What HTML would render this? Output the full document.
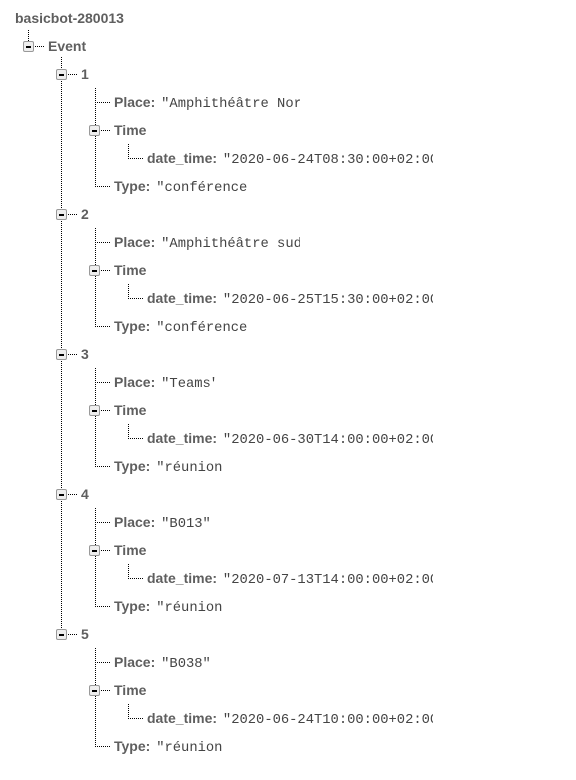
<!DOCTYPE html>
<html><head><meta charset="utf-8"><style>
body{margin:0;width:576px;height:780px;background:#fff;position:relative;overflow:hidden}
.t{position:absolute;height:18px;line-height:18px;white-space:nowrap;overflow:hidden;font-family:"Liberation Sans",sans-serif;font-size:14px;font-weight:bold;color:#5f5f5f}
.t span{font-family:"Liberation Mono",monospace;font-weight:normal;font-size:13.8px;color:#444;margin-left:2px}
.b{position:absolute;width:9px;height:9px;border:1px solid #999;border-radius:2px;background:#eee}
.b:after{content:"";position:absolute;left:2px;top:4px;width:5px;height:2px;background:#000}
svg{position:absolute;left:0;top:0}
</style></head><body>
<svg width="576" height="780"><g stroke="#000" stroke-width="1" stroke-dasharray="1,1" fill="none" shape-rendering="crispEdges">
<path d="M28.5 30V41M33 46.5H45M61.5 57V634"/>
<path d="M66 74.5H78M95.5 88V186.5M95 102.5H111M95 186.5H111M99 130.5H111M128.5 144V158.5M128 158.5H144"/>
<path transform="translate(0,140)" d="M66 74.5H78M95.5 88V186.5M95 102.5H111M95 186.5H111M99 130.5H111M128.5 144V158.5M128 158.5H144"/>
<path transform="translate(0,280)" d="M66 74.5H78M95.5 88V186.5M95 102.5H111M95 186.5H111M99 130.5H111M128.5 144V158.5M128 158.5H144"/>
<path transform="translate(0,420)" d="M66 74.5H78M95.5 88V186.5M95 102.5H111M95 186.5H111M99 130.5H111M128.5 144V158.5M128 158.5H144"/>
<path transform="translate(0,560)" d="M66 74.5H78M95.5 88V186.5M95 102.5H111M95 186.5H111M99 130.5H111M128.5 144V158.5M128 158.5H144"/>
</g></svg>
<div class="t" style="left:15px;top:9px">basicbot-280013</div>
<div class="b" style="left:23px;top:41px"></div><div class="t" style="left:48px;top:37px">Event</div>

<div class="b" style="left:56px;top:69px"></div><div class="t" style="left:81px;top:65px">1</div>
<div class="t" style="left:114px;top:93px;width:186px">Place: <span>"Amphithéâtre Nord"</span></div>
<div class="b" style="left:89px;top:125px"></div><div class="t" style="left:114px;top:121px">Time</div>
<div class="t" style="left:147px;top:149px;width:286px">date_time: <span>"2020-06-24T08:30:00+02:00"</span></div>
<div class="t" style="left:114px;top:177px">Type: <span>"conférence</span></div>

<div class="b" style="left:56px;top:209px"></div><div class="t" style="left:81px;top:205px">2</div>
<div class="t" style="left:114px;top:233px;width:186px">Place: <span>"Amphithéâtre sud"</span></div>
<div class="b" style="left:89px;top:265px"></div><div class="t" style="left:114px;top:261px">Time</div>
<div class="t" style="left:147px;top:289px;width:286px">date_time: <span>"2020-06-25T15:30:00+02:00"</span></div>
<div class="t" style="left:114px;top:317px">Type: <span>"conférence</span></div>

<div class="b" style="left:56px;top:349px"></div><div class="t" style="left:81px;top:345px">3</div>
<div class="t" style="left:114px;top:373px;width:101px">Place: <span>"Teams"</span></div>
<div class="b" style="left:89px;top:405px"></div><div class="t" style="left:114px;top:401px">Time</div>
<div class="t" style="left:147px;top:429px;width:286px">date_time: <span>"2020-06-30T14:00:00+02:00"</span></div>
<div class="t" style="left:114px;top:457px">Type: <span>"réunion</span></div>

<div class="b" style="left:56px;top:489px"></div><div class="t" style="left:81px;top:485px">4</div>
<div class="t" style="left:114px;top:513px;width:96px">Place: <span>"B013"</span></div>
<div class="b" style="left:89px;top:545px"></div><div class="t" style="left:114px;top:541px">Time</div>
<div class="t" style="left:147px;top:569px;width:286px">date_time: <span>"2020-07-13T14:00:00+02:00"</span></div>
<div class="t" style="left:114px;top:597px">Type: <span>"réunion</span></div>

<div class="b" style="left:56px;top:629px"></div><div class="t" style="left:81px;top:625px">5</div>
<div class="t" style="left:114px;top:653px;width:96px">Place: <span>"B038"</span></div>
<div class="b" style="left:89px;top:685px"></div><div class="t" style="left:114px;top:681px">Time</div>
<div class="t" style="left:147px;top:709px;width:286px">date_time: <span>"2020-06-24T10:00:00+02:00"</span></div>
<div class="t" style="left:114px;top:737px">Type: <span>"réunion</span></div>
</body></html>
